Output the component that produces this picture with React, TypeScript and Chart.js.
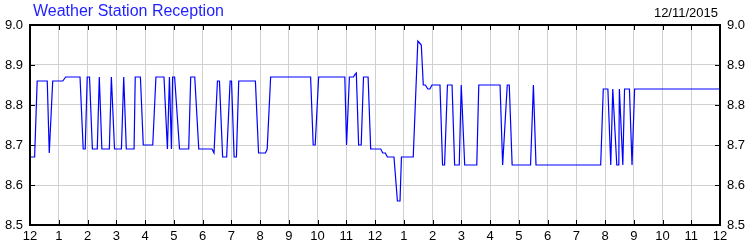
import React, { useEffect, useRef } from "react";
import { Chart, registerables } from "chart.js";

Chart.register(...registerables);

const TITLE = "Weather Station Reception";
const DATE_LABEL = "12/11/2015";

// hours since midnight (0..24)
const hours: number[] = [
  0, 0.16, 0.25, 0.6, 0.67, 0.79, 1.14, 1.24, 1.74, 1.85, 1.92, 1.99, 2.07, 2.17, 2.34, 2.41, 2.5,
  2.76, 2.83, 2.94, 3.18, 3.26, 3.35, 3.62, 3.66, 3.84, 3.94, 4.27, 4.38, 4.66, 4.78, 4.85, 4.92,
  4.96, 5.03, 5.2, 5.52, 5.59, 5.73, 5.87, 6.33, 6.4, 6.52, 6.59, 6.7, 6.84, 6.96, 7.01, 7.1, 7.18,
  7.26, 7.84, 7.95, 8.19, 8.25, 8.37, 9.76, 9.85, 9.92, 10.04, 10.95, 11.01, 11.11, 11.25, 11.3,
  11.35, 11.43, 11.52, 11.6, 11.76, 11.85, 12.2, 12.27, 12.36, 12.43, 12.66, 12.78, 12.87, 12.92,
  13.33, 13.49, 13.55, 13.61, 13.68, 13.75, 13.84, 13.91, 13.98, 14.26, 14.35, 14.42, 14.52, 14.68,
  14.77, 14.93, 15.0, 15.12, 15.54, 15.61, 16.35, 16.44, 16.6, 16.67, 16.77, 17.41, 17.51, 17.6,
  19.85, 19.94, 20.1, 20.2, 20.27, 20.41, 20.48, 20.5, 20.62, 20.68, 20.85, 20.94, 21.03, 24,
];

const reception: number[] = [
  8.67, 8.67, 8.86, 8.86, 8.68, 8.86, 8.86, 8.87, 8.87, 8.69, 8.69, 8.87, 8.87, 8.69, 8.69, 8.87, 8.69,
  8.69, 8.87, 8.69, 8.69, 8.87, 8.69, 8.69, 8.87, 8.87, 8.7, 8.7, 8.87, 8.87, 8.69, 8.87, 8.69,
  8.87, 8.87, 8.69, 8.69, 8.87, 8.87, 8.69, 8.69, 8.68, 8.86, 8.86, 8.67, 8.67, 8.86, 8.86, 8.67, 8.67,
  8.86, 8.86, 8.68, 8.68, 8.69, 8.87, 8.87, 8.7, 8.7, 8.87, 8.87, 8.7, 8.87, 8.87, 8.876,
  8.88, 8.7, 8.7, 8.87, 8.87, 8.69, 8.69, 8.68, 8.68, 8.67, 8.67, 8.56, 8.56, 8.67,
  8.67, 8.96, 8.955, 8.95, 8.85, 8.85, 8.84, 8.84, 8.85, 8.85, 8.65, 8.65, 8.85, 8.85,
  8.65, 8.65, 8.85, 8.65, 8.65, 8.85, 8.85, 8.65, 8.85, 8.85, 8.65, 8.65, 8.85, 8.65,
  8.65, 8.84, 8.84, 8.65, 8.84, 8.65, 8.65, 8.84, 8.65, 8.84, 8.84, 8.65, 8.84, 8.84,
];

const X_MIN = 0;
const X_MAX = 24;
const Y_MIN = 8.5;
const Y_MAX = 9.0;
const Y_STEP = 0.1;

const hourLabel = (v: number) => {
  const h = Math.round(v) % 12;
  return String(h === 0 ? 12 : h);
};

const FONT = "'Liberation Sans', Arial, sans-serif";

const framePlugin = {
  id: "frame",
  afterDraw(chart: any) {
    const { ctx, chartArea } = chart;
    const { left, right, top, bottom } = chartArea;
    const xs = chart.scales.x;
    const ys = chart.scales.y;
    ctx.save();
    ctx.strokeStyle = "#000";
    ctx.lineWidth = 1;
    ctx.beginPath();
    xs.ticks.forEach((t: any) => {
      const px = Math.round(xs.getPixelForValue(t.value)) + 0.5;
      ctx.moveTo(px, bottom);
      ctx.lineTo(px, bottom - 5);
      ctx.moveTo(px, top);
      ctx.lineTo(px, top + 5);
    });
    ys.ticks.forEach((t: any) => {
      const py = Math.round(ys.getPixelForValue(t.value)) + 0.5;
      ctx.moveTo(left, py);
      ctx.lineTo(left + 5, py);
      ctx.moveTo(right, py);
      ctx.lineTo(right - 5, py);
    });
    ctx.stroke();
    ctx.lineWidth = 2;
    ctx.strokeRect(left, top, right - left, bottom - top);
    // header texts
    ctx.textBaseline = "middle";
    ctx.fillStyle = "#1f1fff";
    ctx.font = `16px ${FONT}`;
    ctx.textAlign = "left";
    ctx.fillText(TITLE, 33, 12);
    ctx.fillStyle = "#000";
    ctx.font = `13px ${FONT}`;
    ctx.textAlign = "right";
    ctx.fillText(DATE_LABEL, 718, 13);
    ctx.restore();
  },
};

export default function App() {
  const ref = useRef<HTMLCanvasElement>(null);
  useEffect(() => {
    if (!ref.current) return;
    const points = hours.map((h, i) => ({ x: h, y: reception[i] }));
    const tickFont = { family: FONT, size: 13 };
    const chart = new Chart(ref.current, {
      type: "line",
      data: {
        datasets: [
          {
            data: points,
            borderColor: "#0000ff",
            borderWidth: 1.2,
            pointRadius: 0,
            tension: 0,
            fill: false,
          },
        ],
      },
      options: {
        responsive: false,
        animation: false,
        maintainAspectRatio: false,
        layout: { padding: { top: 25, left: 0, right: 0, bottom: 0 } },
        plugins: { legend: { display: false }, tooltip: { enabled: false }, title: { display: false } },
        scales: {
          x: {
            type: "linear",
            position: "bottom",
            min: X_MIN,
            max: X_MAX,
            afterFit: (s: any) => {
              s.height = 25;
            },
            ticks: {
              stepSize: 1,
              autoSkip: false,
              maxRotation: 0,
              padding: 4,
              color: "#000",
              font: tickFont,
              callback: (v: any) => hourLabel(Number(v)),
            },
            grid: { color: "#d0d0d0", drawTicks: false, lineWidth: 1 },
            border: { display: false },
          },
          y: {
            type: "linear",
            position: "left",
            min: Y_MIN,
            max: Y_MAX,
            afterFit: (s: any) => {
              s.width = 30;
            },
            ticks: {
              stepSize: Y_STEP,
              padding: 7,
              color: "#000",
              font: tickFont,
              callback: (v: any) => Number(v).toFixed(1),
            },
            grid: { color: "#d0d0d0", drawTicks: false, lineWidth: 1 },
            border: { display: false },
          },
          yR: {
            type: "linear",
            position: "right",
            min: Y_MIN,
            max: Y_MAX,
            afterFit: (s: any) => {
              s.width = 30;
            },
            ticks: {
              stepSize: Y_STEP,
              padding: 7,
              color: "#000",
              font: tickFont,
              callback: (v: any) => Number(v).toFixed(1),
            },
            grid: { drawOnChartArea: false, drawTicks: false },
            border: { display: false },
          },
        },
      },
      plugins: [framePlugin],
    });
    return () => chart.destroy();
  }, []);
  return (
    <div style={{ position: "absolute", left: 0, top: 0, width: 750, height: 250, background: "#fff" }}>
      <canvas ref={ref} width={750} height={250} style={{ width: 750, height: 250 }} />
    </div>
  );
}
